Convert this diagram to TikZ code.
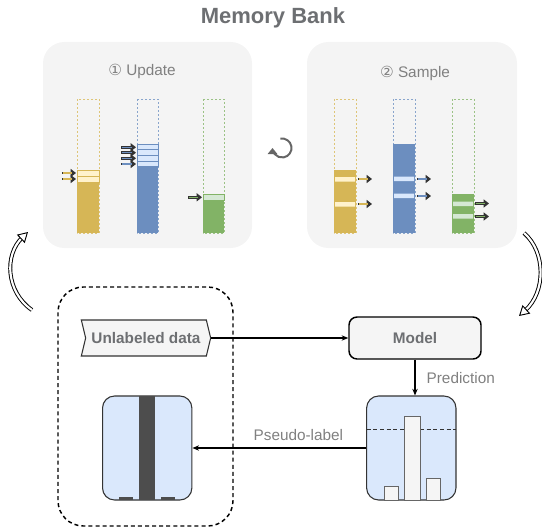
\documentclass[tikz,border=0pt]{standalone}
\usepackage{fontspec}
\setmainfont{Liberation Sans}
\newfontfamily\circfont{DejaVu Sans}
\usetikzlibrary{arrows.meta,shapes.symbols}

\definecolor{panelgray}{HTML}{F4F4F4}
\definecolor{boxgray}{HTML}{F5F5F5}
\definecolor{txtgray}{HTML}{6D6F72}
\definecolor{lblgray}{HTML}{808080}
\definecolor{yelfill}{HTML}{D6B656}
\definecolor{yellight}{HTML}{FFF2CC}
\definecolor{blufill}{HTML}{6C8EBF}
\definecolor{blulight}{HTML}{DAE8FC}
\definecolor{grnfill}{HTML}{82B366}
\definecolor{grnlight}{HTML}{D5E8D4}
\definecolor{darkbar}{HTML}{4D4D4D}

\tikzset{
    panel/.style={fill=panelgray, rounded corners=16pt},
    slotline/.style={draw=#1!80, line width=0.5pt, dash pattern=on 1.5pt off 1.5pt},
    slotcell/.style={draw=#1, line width=0.6pt},
    ptr/.style={line width=2pt, draw=black!80, -{Triangle[length=4pt,width=6pt]},
        postaction={draw=#1, line width=0.8pt, -, shorten >=3pt, shorten <=0.6pt}},
    flow/.style={line width=0.8pt, -{Stealth[length=5pt,width=4pt]}},
    swing/.style={double, double distance=1.6pt, line width=0.7pt, shorten >=6pt},
    swingtip/.style={line width=0.7pt, -{Triangle[fill=white, length=7.5pt, width=8.5pt]}},
    softbox/.style={draw=black!80, fill=blulight, rounded corners=9pt, line width=0.8pt},
    bold label/.style={font=\bfseries\fontsize{11.5}{14}\selectfont, text=txtgray},
    thin label/.style={font=\fontsize{11.5}{14}\selectfont, text=lblgray}
}

\begin{document}
\begin{tikzpicture}[x=0.75pt, y=-0.75pt]
    \useasboundingbox (0,0) rectangle (542,528);

    % memory bank
    \node[font=\bfseries\fontsize{16.5}{20}\selectfont, text=txtgray] (bank) at (273,18) {Memory Bank};
    \fill[panel] (43,42) rectangle (252,248);
    \fill[panel] (307,42) rectangle (517,248);
    \node[thin label] (updtitle) at (142,71) {{\circfont ①} Update};
    \node[thin label] (smptitle) at (415,73) {{\circfont ②} Sample};

    % update
    \draw[slotline=yelfill] (77,99) rectangle (99,233);
    \fill[yelfill] (77,170) rectangle (99,233);
    \draw[slotcell=yelfill, fill=yellight] (77,170) rectangle (99,176) (77,176) rectangle (99,182);
    \draw[ptr=yelfill] (62,173) -- (76,173);
    \draw[ptr=yelfill] (62,179) -- (76,179);

    \draw[slotline=blufill] (137,99) rectangle (158,233);
    \fill[blufill] (137,144) rectangle (158,233);
    \draw[slotcell=blufill, fill=blulight] (137,144) rectangle (158,149.7) (137,149.7) rectangle (158,155.3)
        (137,155.3) rectangle (158,161) (137,161) rectangle (158,166.7);
    \draw[ptr=blufill] (121,147.3) -- (136,147.3);
    \draw[ptr=blufill] (121,152.7) -- (136,152.7);
    \draw[ptr=blufill] (121,158.3) -- (136,158.3);
    \draw[ptr=blufill] (121,164) -- (136,164);

    \draw[slotline=grnfill] (203,99) rectangle (224,233);
    \fill[grnfill] (203,194.3) rectangle (224,233);
    \draw[slotcell=grnfill, fill=grnlight] (203,194.3) rectangle (224,200.5);
    \draw[ptr=grnfill] (188,197.3) -- (202,197.3);

    \draw[line width=1.5pt, black!60, -{Triangle[length=4.5pt,width=7pt]}]
        (282,148) ++(260:9.5) arc[start angle=260, end angle=540, radius=9.5];

    % sample
    \draw[slotline=yelfill] (334,99) rectangle (356,233);
    \fill[yelfill] (334,170) rectangle (356,233);
    \fill[yellight] (335,177) rectangle (355,181.5) (335,202) rectangle (355,206.5);
    \draw[ptr=yelfill] (358,179) -- (372,179);
    \draw[ptr=yelfill] (358,204) -- (372,204);

    \draw[slotline=blufill] (393,99) rectangle (415,233);
    \fill[blufill] (393,144) rectangle (415,233);
    \fill[blulight] (394,176.5) rectangle (414,181) (394,193.5) rectangle (414,198);
    \draw[ptr=blufill] (417,179) -- (431,179);
    \draw[ptr=blufill] (417,196) -- (431,196);

    \draw[slotline=grnfill] (452,99) rectangle (474,233);
    \fill[grnfill] (452,194.3) rectangle (474,233);
    \fill[grnlight] (453,201.5) rectangle (473,206) (453,214) rectangle (473,218.5);
    \draw[ptr=grnfill] (475,203.5) -- (489,203.5);
    \draw[ptr=grnfill] (475,216.5) -- (489,216.5);

    % loop arrows
    \coordinate (upd in) at (28,232);
    \coordinate (smp out) at (519,316);
    \draw[swing] (32,310) .. controls (6,292) and (4,255) .. (upd in);
    \draw[swingtip] (25.8,234.1) -- (upd in);
    \draw[swing] (524,233) .. controls (546,252) and (546,292) .. (smp out);
    \draw[swingtip] (521.2,314) -- (smp out);

    % pseudo-labelling
    \draw[line width=1.1pt, dash pattern=on 3pt off 2.3pt, rounded corners=19pt] (58,287) rectangle (233,526);

    \node[signal, signal from=west, signal to=east, signal pointer angle=153, draw=black!80, fill=boxgray,
        line width=0.8pt, minimum width=97pt, minimum height=27pt, bold label] (unl) at (146,338) {Unlabeled data};
    \node[draw=black, fill=boxgray, rounded corners=6pt, line width=1.1pt, minimum width=99pt,
        minimum height=31.5pt, bold label] (model) at (415,338) {Model};
    \node[softbox, minimum width=67pt, minimum height=78pt] (pred) at (411.3,448) {};
    \node[softbox, minimum width=67pt, minimum height=78pt] (lbl) at (147.2,448) {};

    \draw[densely dashed, line width=0.6pt, black!80] (366.7,429.3) -- (456,429.3);
    \draw[black!60, fill=boxgray, line width=0.7pt] (384.3,500) rectangle (398.7,486);
    \draw[black!60, fill=boxgray, line width=0.7pt] (404,500) rectangle (420.3,416);
    \draw[black!60, fill=boxgray, line width=0.7pt] (426.7,500) rectangle (440.3,478.7);

    \fill[darkbar] (139,396) rectangle (155,500);
    \fill[darkbar] (119.3,497) rectangle (132.7,500);
    \fill[darkbar] (161,497) rectangle (175,500);

    \draw[flow] (unl.east) -- (model.west);
    \draw[flow] (model.south) -- (model.south |- pred.north)
        node[midway, right=5pt, thin label] {Prediction};
    \draw[flow] (pred.west) -- (lbl.east)
        node[pos=0.39, above=2pt, thin label] {Pseudo-label};
\end{tikzpicture}
\end{document}
